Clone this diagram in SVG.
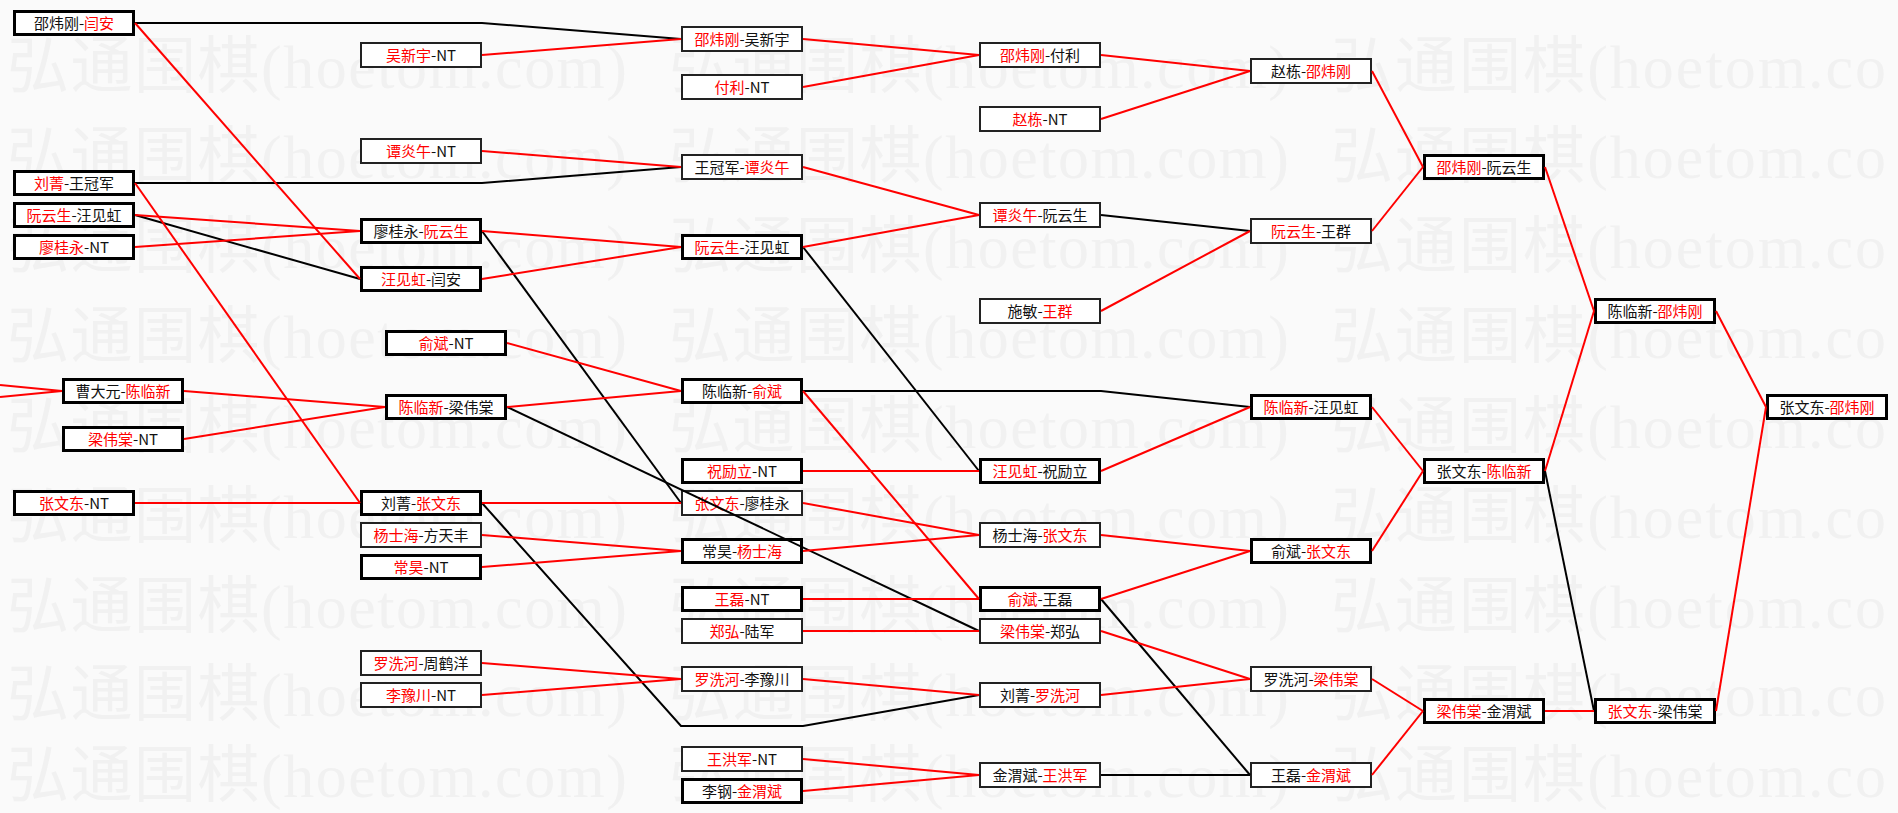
<svg xmlns="http://www.w3.org/2000/svg" width="1898" height="813" viewBox="0 0 1898 813">
<style>
.wm{font-family:"Liberation Serif","Noto Sans CJK SC",serif;font-size:62px;fill:#f1f1f1}
.bx{fill:#fff;stroke:#000;stroke-width:3}
.bt{fill:#fff;stroke:#222;stroke-width:2}
.t{font-family:"Noto Sans CJK SC","Noto Sans",sans-serif;font-size:15px;fill:#111;text-anchor:middle}
.r{fill:#f00}
.lr{fill:none;stroke:#f00;stroke-width:2}
.lb{fill:none;stroke:#000;stroke-width:2}
</style>
<rect x="0" y="0" width="1898" height="813" fill="#fafafa"/>
<g id="watermark">
<text class="wm" x="7" y="88" textLength="620" lengthAdjust="spacing">弘通围棋(hoetom.com)</text><text class="wm" x="669" y="88" textLength="620" lengthAdjust="spacing">弘通围棋(hoetom.com)</text><text class="wm" x="1331" y="88" textLength="555" lengthAdjust="spacing">弘通围棋(hoetom.co</text>
<text class="wm" x="7" y="178" textLength="620" lengthAdjust="spacing">弘通围棋(hoetom.com)</text><text class="wm" x="669" y="178" textLength="620" lengthAdjust="spacing">弘通围棋(hoetom.com)</text><text class="wm" x="1331" y="178" textLength="555" lengthAdjust="spacing">弘通围棋(hoetom.co</text>
<text class="wm" x="7" y="268" textLength="620" lengthAdjust="spacing">弘通围棋(hoetom.com)</text><text class="wm" x="669" y="268" textLength="620" lengthAdjust="spacing">弘通围棋(hoetom.com)</text><text class="wm" x="1331" y="268" textLength="555" lengthAdjust="spacing">弘通围棋(hoetom.co</text>
<text class="wm" x="7" y="358" textLength="620" lengthAdjust="spacing">弘通围棋(hoetom.com)</text><text class="wm" x="669" y="358" textLength="620" lengthAdjust="spacing">弘通围棋(hoetom.com)</text><text class="wm" x="1331" y="358" textLength="555" lengthAdjust="spacing">弘通围棋(hoetom.co</text>
<text class="wm" x="7" y="448" textLength="620" lengthAdjust="spacing">弘通围棋(hoetom.com)</text><text class="wm" x="669" y="448" textLength="620" lengthAdjust="spacing">弘通围棋(hoetom.com)</text><text class="wm" x="1331" y="448" textLength="555" lengthAdjust="spacing">弘通围棋(hoetom.co</text>
<text class="wm" x="7" y="538" textLength="620" lengthAdjust="spacing">弘通围棋(hoetom.com)</text><text class="wm" x="669" y="538" textLength="620" lengthAdjust="spacing">弘通围棋(hoetom.com)</text><text class="wm" x="1331" y="538" textLength="555" lengthAdjust="spacing">弘通围棋(hoetom.co</text>
<text class="wm" x="7" y="628" textLength="620" lengthAdjust="spacing">弘通围棋(hoetom.com)</text><text class="wm" x="669" y="628" textLength="620" lengthAdjust="spacing">弘通围棋(hoetom.com)</text><text class="wm" x="1331" y="628" textLength="555" lengthAdjust="spacing">弘通围棋(hoetom.co</text>
<text class="wm" x="7" y="716" textLength="620" lengthAdjust="spacing">弘通围棋(hoetom.com)</text><text class="wm" x="669" y="716" textLength="620" lengthAdjust="spacing">弘通围棋(hoetom.com)</text><text class="wm" x="1331" y="716" textLength="555" lengthAdjust="spacing">弘通围棋(hoetom.co</text>
<text class="wm" x="7" y="797" textLength="620" lengthAdjust="spacing">弘通围棋(hoetom.com)</text><text class="wm" x="669" y="797" textLength="620" lengthAdjust="spacing">弘通围棋(hoetom.com)</text><text class="wm" x="1331" y="797" textLength="555" lengthAdjust="spacing">弘通围棋(hoetom.co</text>
</g>

<!-- column 0 -->
<g id="n0a"><rect class="bx" x="14.5" y="11.5" width="119" height="23"/><text class="t" x="74" y="28.5">邵炜刚-<tspan class="r">闫安</tspan></text></g>
<g id="n0b"><rect class="bx" x="14.5" y="171.5" width="119" height="23"/><text class="t" x="74" y="188.5"><tspan class="r">刘菁</tspan>-王冠军</text></g>
<g id="n0c"><rect class="bx" x="14.5" y="203.5" width="119" height="23"/><text class="t" x="74" y="220.5"><tspan class="r">阮云生</tspan>-汪见虹</text></g>
<g id="n0d"><rect class="bx" x="14.5" y="235.5" width="119" height="23"/><text class="t" x="74" y="252.5"><tspan class="r">廖桂永</tspan>-NT</text></g>
<g id="n0e"><rect class="bx" x="63.5" y="379.5" width="119" height="23"/><text class="t" x="123" y="396.5">曹大元-<tspan class="r">陈临新</tspan></text></g>
<g id="n0f"><rect class="bx" x="63.5" y="427.5" width="119" height="23"/><text class="t" x="123" y="444.5"><tspan class="r">梁伟棠</tspan>-NT</text></g>
<g id="n0g"><rect class="bx" x="14.5" y="491.5" width="119" height="23"/><text class="t" x="74" y="508.5"><tspan class="r">张文东</tspan>-NT</text></g>

<!-- column 1 -->
<g id="n1a"><rect class="bt" x="361" y="43" width="120" height="24"/><text class="t" x="421" y="60.5"><tspan class="r">吴新宇</tspan>-NT</text></g>
<g id="n1b"><rect class="bt" x="361" y="139" width="120" height="24"/><text class="t" x="421" y="156.5"><tspan class="r">谭炎午</tspan>-NT</text></g>
<g id="n1c"><rect class="bx" x="361.5" y="219.5" width="119" height="23"/><text class="t" x="421" y="236.5">廖桂永-<tspan class="r">阮云生</tspan></text></g>
<g id="n1d"><rect class="bx" x="361.5" y="267.5" width="119" height="23"/><text class="t" x="421" y="284.5"><tspan class="r">汪见虹</tspan>-闫安</text></g>
<g id="n1e"><rect class="bx" x="386.5" y="331.5" width="119" height="23"/><text class="t" x="446" y="348.5"><tspan class="r">俞斌</tspan>-NT</text></g>
<g id="n1f"><rect class="bx" x="386.5" y="395.5" width="119" height="23"/><text class="t" x="446" y="412.5"><tspan class="r">陈临新</tspan>-梁伟棠</text></g>
<g id="n1g"><rect class="bx" x="361.5" y="491.5" width="119" height="23"/><text class="t" x="421" y="508.5">刘菁-<tspan class="r">张文东</tspan></text></g>
<g id="n1h"><rect class="bt" x="361" y="523" width="120" height="24"/><text class="t" x="421" y="540.5"><tspan class="r">杨士海</tspan>-方天丰</text></g>
<g id="n1i"><rect class="bx" x="361.5" y="555.5" width="119" height="23"/><text class="t" x="421" y="572.5"><tspan class="r">常昊</tspan>-NT</text></g>
<g id="n1j"><rect class="bt" x="361" y="651" width="120" height="24"/><text class="t" x="421" y="668.5"><tspan class="r">罗洗河</tspan>-周鹤洋</text></g>
<g id="n1k"><rect class="bt" x="361" y="683" width="120" height="24"/><text class="t" x="421" y="700.5"><tspan class="r">李豫川</tspan>-NT</text></g>

<!-- column 2 -->
<g id="n2a"><rect class="bt" x="682" y="27" width="120" height="24"/><text class="t" x="742" y="44.5"><tspan class="r">邵炜刚</tspan>-吴新宇</text></g>
<g id="n2b"><rect class="bt" x="682" y="75" width="120" height="24"/><text class="t" x="742" y="92.5"><tspan class="r">付利</tspan>-NT</text></g>
<g id="n2c"><rect class="bt" x="682" y="155" width="120" height="24"/><text class="t" x="742" y="172.5">王冠军-<tspan class="r">谭炎午</tspan></text></g>
<g id="n2d"><rect class="bx" x="682.5" y="235.5" width="119" height="23"/><text class="t" x="742" y="252.5"><tspan class="r">阮云生</tspan>-汪见虹</text></g>
<g id="n2e"><rect class="bx" x="682.5" y="379.5" width="119" height="23"/><text class="t" x="742" y="396.5">陈临新-<tspan class="r">俞斌</tspan></text></g>
<g id="n2f"><rect class="bx" x="682.5" y="459.5" width="119" height="23"/><text class="t" x="742" y="476.5"><tspan class="r">祝励立</tspan>-NT</text></g>
<g id="n2g"><rect class="bt" x="682" y="491" width="120" height="24"/><text class="t" x="742" y="508.5"><tspan class="r">张文东</tspan>-廖桂永</text></g>
<g id="n2h"><rect class="bx" x="682.5" y="539.5" width="119" height="23"/><text class="t" x="742" y="556.5">常昊-<tspan class="r">杨士海</tspan></text></g>
<g id="n2i"><rect class="bx" x="682.5" y="587.5" width="119" height="23"/><text class="t" x="742" y="604.5"><tspan class="r">王磊</tspan>-NT</text></g>
<g id="n2j"><rect class="bt" x="682" y="619" width="120" height="24"/><text class="t" x="742" y="636.5"><tspan class="r">郑弘</tspan>-陆军</text></g>
<g id="n2k"><rect class="bt" x="682" y="667" width="120" height="24"/><text class="t" x="742" y="684.5"><tspan class="r">罗洗河</tspan>-李豫川</text></g>
<g id="n2l"><rect class="bt" x="682" y="747" width="120" height="24"/><text class="t" x="742" y="764.5"><tspan class="r">王洪军</tspan>-NT</text></g>
<g id="n2m"><rect class="bx" x="682.5" y="779.5" width="119" height="23"/><text class="t" x="742" y="796.5">李钢-<tspan class="r">金渭斌</tspan></text></g>

<!-- column 3 -->
<g id="n3a"><rect class="bt" x="980" y="43" width="120" height="24"/><text class="t" x="1040" y="60.5"><tspan class="r">邵炜刚</tspan>-付利</text></g>
<g id="n3b"><rect class="bt" x="980" y="107" width="120" height="24"/><text class="t" x="1040" y="124.5"><tspan class="r">赵栋</tspan>-NT</text></g>
<g id="n3c"><rect class="bt" x="980" y="203" width="120" height="24"/><text class="t" x="1040" y="220.5"><tspan class="r">谭炎午</tspan>-阮云生</text></g>
<g id="n3d"><rect class="bt" x="980" y="299" width="120" height="24"/><text class="t" x="1040" y="316.5">施敏-<tspan class="r">王群</tspan></text></g>
<g id="n3e"><rect class="bx" x="980.5" y="459.5" width="119" height="23"/><text class="t" x="1040" y="476.5"><tspan class="r">汪见虹</tspan>-祝励立</text></g>
<g id="n3f"><rect class="bt" x="980" y="523" width="120" height="24"/><text class="t" x="1040" y="540.5">杨士海-<tspan class="r">张文东</tspan></text></g>
<g id="n3g"><rect class="bx" x="980.5" y="587.5" width="119" height="23"/><text class="t" x="1040" y="604.5"><tspan class="r">俞斌</tspan>-王磊</text></g>
<g id="n3h"><rect class="bt" x="980" y="619" width="120" height="24"/><text class="t" x="1040" y="636.5"><tspan class="r">梁伟棠</tspan>-郑弘</text></g>
<g id="n3i"><rect class="bt" x="980" y="683" width="120" height="24"/><text class="t" x="1040" y="700.5">刘菁-<tspan class="r">罗洗河</tspan></text></g>
<g id="n3j"><rect class="bt" x="980" y="763" width="120" height="24"/><text class="t" x="1040" y="780.5">金渭斌-<tspan class="r">王洪军</tspan></text></g>

<!-- column 4 -->
<g id="n4a"><rect class="bt" x="1251" y="59" width="120" height="24"/><text class="t" x="1311" y="76.5">赵栋-<tspan class="r">邵炜刚</tspan></text></g>
<g id="n4b"><rect class="bt" x="1251" y="219" width="120" height="24"/><text class="t" x="1311" y="236.5"><tspan class="r">阮云生</tspan>-王群</text></g>
<g id="n4c"><rect class="bx" x="1251.5" y="395.5" width="119" height="23"/><text class="t" x="1311" y="412.5"><tspan class="r">陈临新</tspan>-汪见虹</text></g>
<g id="n4d"><rect class="bx" x="1251.5" y="539.5" width="119" height="23"/><text class="t" x="1311" y="556.5">俞斌-<tspan class="r">张文东</tspan></text></g>
<g id="n4e"><rect class="bt" x="1251" y="667" width="120" height="24"/><text class="t" x="1311" y="684.5">罗洗河-<tspan class="r">梁伟棠</tspan></text></g>
<g id="n4f"><rect class="bt" x="1251" y="763" width="120" height="24"/><text class="t" x="1311" y="780.5">王磊-<tspan class="r">金渭斌</tspan></text></g>

<!-- column 5 -->
<g id="n5a"><rect class="bx" x="1424.5" y="155.5" width="119" height="23"/><text class="t" x="1484" y="172.5"><tspan class="r">邵炜刚</tspan>-阮云生</text></g>
<g id="n5b"><rect class="bx" x="1424.5" y="459.5" width="119" height="23"/><text class="t" x="1484" y="476.5">张文东-<tspan class="r">陈临新</tspan></text></g>
<g id="n5c"><rect class="bx" x="1424.5" y="699.5" width="119" height="23"/><text class="t" x="1484" y="716.5"><tspan class="r">梁伟棠</tspan>-金渭斌</text></g>

<!-- column 6 -->
<g id="n6a"><rect class="bx" x="1595.5" y="299.5" width="119" height="23"/><text class="t" x="1655" y="316.5">陈临新-<tspan class="r">邵炜刚</tspan></text></g>
<g id="n6b"><rect class="bx" x="1595.5" y="699.5" width="119" height="23"/><text class="t" x="1655" y="716.5"><tspan class="r">张文东</tspan>-梁伟棠</text></g>

<!-- column 7 -->
<g id="n7a"><rect class="bx" x="1767.5" y="395.5" width="119" height="23"/><text class="t" x="1827" y="412.5">张文东-<tspan class="r">邵炜刚</tspan></text></g>

<g id="connectors">
<path class="lb" d="M135,23 H482 L681,39"/>
<path class="lb" d="M135,183 H482 L681,167"/>
<path class="lb" d="M135,215 L360,279"/>
<path class="lb" d="M482,231 L681,503"/>
<path class="lb" d="M507,407 L979,631"/>
<path class="lb" d="M482,503 L681,726 H803 L979,695"/>
<path class="lb" d="M803,247 L979,471"/>
<path class="lb" d="M803,391 H1101 L1250,407"/>
<path class="lb" d="M1101,215 L1250,231"/>
<path class="lb" d="M1101,599 L1250,775"/>
<path class="lb" d="M1101,775 H1250"/>
<path class="lb" d="M1545,471 L1594,711"/>

<path class="lr" d="M135,23 L360,279"/>
<path class="lr" d="M482,55 L681,39"/>
<path class="lr" d="M482,151 L681,167"/>
<path class="lr" d="M135,183 L360,503"/>
<path class="lr" d="M135,215 L360,231"/>
<path class="lr" d="M135,247 L360,231"/>
<path class="lr" d="M482,231 L681,247"/>
<path class="lr" d="M482,279 L681,247"/>
<path class="lr" d="M507,343 L681,391"/>
<path class="lr" d="M0,385 L62,391"/>
<path class="lr" d="M0,397 L62,391"/>
<path class="lr" d="M184,391 L385,407"/>
<path class="lr" d="M184,439 L385,407"/>
<path class="lr" d="M507,407 L681,391"/>
<path class="lr" d="M135,503 H360"/>
<path class="lr" d="M482,503 H681"/>
<path class="lr" d="M482,535 L681,551"/>
<path class="lr" d="M482,567 L681,551"/>
<path class="lr" d="M482,663 L681,679"/>
<path class="lr" d="M482,695 L681,679"/>
<path class="lr" d="M803,39 L979,55"/>
<path class="lr" d="M803,87 L979,55"/>
<path class="lr" d="M803,167 L979,215"/>
<path class="lr" d="M803,247 L979,215"/>
<path class="lr" d="M803,391 L979,599"/>
<path class="lr" d="M803,471 H979"/>
<path class="lr" d="M803,503 L979,535"/>
<path class="lr" d="M803,551 L979,535"/>
<path class="lr" d="M803,599 H979"/>
<path class="lr" d="M803,631 H979"/>
<path class="lr" d="M803,679 L979,695"/>
<path class="lr" d="M803,759 L979,775"/>
<path class="lr" d="M803,791 L979,775"/>
<path class="lr" d="M1101,55 L1250,71"/>
<path class="lr" d="M1101,119 L1250,71"/>
<path class="lr" d="M1101,311 L1250,231"/>
<path class="lr" d="M1101,471 L1250,407"/>
<path class="lr" d="M1101,535 L1250,551"/>
<path class="lr" d="M1101,599 L1250,551"/>
<path class="lr" d="M1101,631 L1250,679"/>
<path class="lr" d="M1101,695 L1250,679"/>
<path class="lr" d="M1372,71 L1423,167"/>
<path class="lr" d="M1372,231 L1423,167"/>
<path class="lr" d="M1372,407 L1423,471"/>
<path class="lr" d="M1372,551 L1423,471"/>
<path class="lr" d="M1372,679 L1423,711"/>
<path class="lr" d="M1372,775 L1423,711"/>
<path class="lr" d="M1545,167 L1594,311"/>
<path class="lr" d="M1545,471 L1594,311"/>
<path class="lr" d="M1545,711 H1594"/>
<path class="lr" d="M1716,311 L1766,407"/>
<path class="lr" d="M1716,711 L1766,407"/>
</g>
</svg>
